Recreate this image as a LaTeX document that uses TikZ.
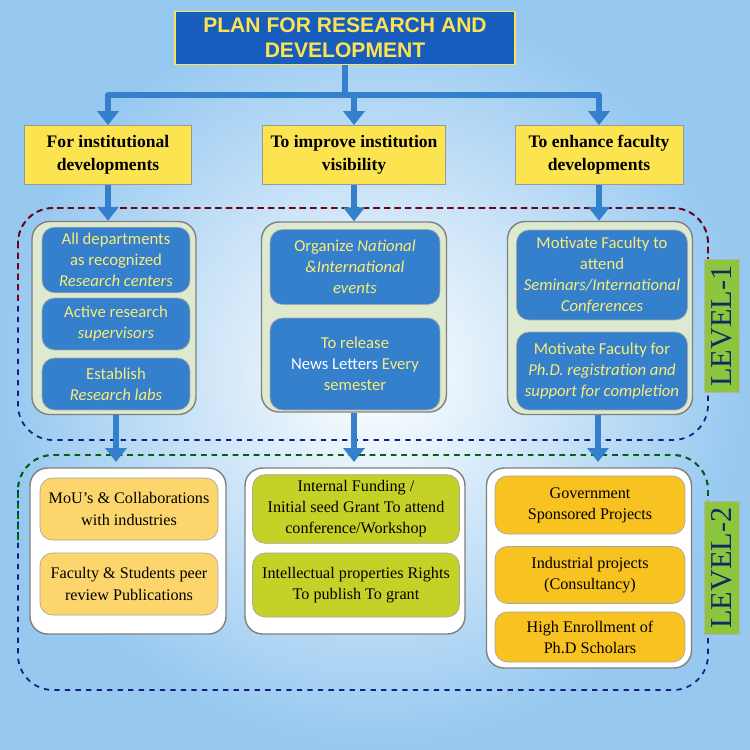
\documentclass[tikz,border=0pt]{standalone}
\usepackage{fontspec}
\setmainfont{Liberation Serif}
\newfontfamily\cfont{Carlito}
\newfontfamily\tfont{Liberation Sans}
\usetikzlibrary{arrows.meta}
\definecolor{skyb}{RGB}{150,200,240}
\definecolor{titleb}{RGB}{24,92,190}
\definecolor{headY}{RGB}{252,228,80}
\definecolor{boxB}{RGB}{52,128,205}
\definecolor{txtY}{RGB}{250,235,120}
\definecolor{panelG}{RGB}{222,234,208}
\definecolor{lightO}{RGB}{252,214,108}
\definecolor{limeG}{RGB}{196,210,40}
\definecolor{deepO}{RGB}{248,194,32}
\definecolor{tabG}{RGB}{140,198,63}
\definecolor{navyT}{RGB}{20,40,100}
\tikzset{
  titlebox/.style={draw=headY, line width=1pt, fill=titleb, text=headY, font=\tfont\bfseries\large, align=center, minimum width=6.8cm, minimum height=1.06cm},
  headbox/.style={draw=black!40, fill=headY, font=\bfseries\fontsize{10}{13}\selectfont, align=center, minimum height=1.18cm},
  panel/.style={draw=black!50, line width=0.8pt, rounded corners=0.35cm},
  bluebox/.style={draw=black!35, fill=boxB, text=txtY, rounded corners=0.25cm, font=\cfont\fontsize{9.5}{12}\selectfont, align=center, minimum width=#1},
  cbox/.style={draw=black!35, rounded corners=0.25cm, font=\fontsize{9.2}{12}\selectfont, align=center},
  tab/.style={draw=black!30, fill=tabG, text=navyT, rotate=90, font=\LARGE, minimum height=0.7cm},
  flow/.style={boxB, line width=0.12cm, -{Triangle[length=0.28cm, width=0.42cm]}},
  link/.style={boxB, line width=0.12cm},
}
\begin{document}
\begin{tikzpicture}[x=0.02cm, y=-0.02cm]
  \shade[inner color=white, outer color=skyb] (0,0) rectangle (750,750);
  % top
  \node[titlebox] (plan) at (345,38) {PLAN FOR RESEARCH AND\\DEVELOPMENT};
  \node[headbox, minimum width=3.34cm] (inst) at (108,155) {For institutional\\developments};
  \node[headbox, minimum width=3.66cm] (vis) at (354,155) {To improve institution\\visibility};
  \node[headbox, minimum width=3.36cm] (fac) at (599,155) {To enhance faculty\\developments};
  \coordinate (hub) at (345,95);
  \coordinate (hubL) at (108,95);
  \coordinate (hubR) at (599,95);
  \draw[link] (plan.south) -- (hub);
  \draw[link, line cap=round] (hubL) -- (hubR);
  \draw[flow] (hubL) -- (inst.north);
  \draw[flow] (hub -| vis.north) -- (vis.north);
  \draw[flow] (hubR) -- (fac.north);
  % level 1
  \draw[navyT!80!blue, dashed, line width=1pt, rounded corners=0.7cm] (18,208) rectangle (708,440);
  \draw[red!50!black, dashed, line width=1pt, rounded corners=0.7cm] (18,300) -- (18,208) -- (708,208) -- (708,300);
  \node[panel, fill=panelG, minimum width=3.28cm, minimum height=3.86cm] (p1) at (114,318) {};
  \node[panel, fill=panelG, minimum width=3.7cm, minimum height=3.8cm] (p2) at (354,317) {};
  \node[panel, fill=panelG, minimum width=3.7cm, minimum height=3.86cm] (p3) at (600,318) {};
  \node[bluebox=2.96cm, minimum height=1.2cm] (b1) at (116,260) {All departments\\as recognized\\\itshape Research centers};
  \node[bluebox=2.96cm, minimum height=1.04cm] (b2) at (116,324) {Active research\\\itshape supervisors};
  \node[bluebox=2.96cm, minimum height=1.04cm] (b3) at (116,384) {Establish\\\itshape Research labs};
  \node[bluebox=3.4cm, minimum height=1.5cm] (b4) at (355,267) {Organize \textit{National}\\\itshape \&International\\\itshape events};
  \node[bluebox=3.4cm, minimum height=1.84cm] (b5) at (355,364) {To release\\\textcolor{white}{News Letters} Every\\semester};
  \node[bluebox=3.42cm, minimum height=1.8cm] (b6) at (602,275) {Motivate Faculty to\\attend\\\itshape Seminars/International\\\itshape Conferences};
  \node[bluebox=3.42cm, minimum height=1.56cm] (b7) at (602,371) {Motivate Faculty for\\\itshape Ph.D. registration and\\\itshape support for completion};
  \node[tab, minimum width=1.94cm] (lv1) at (722,326) {LEVEL-1};
  \draw[flow] (inst.south) -- (p1.north -| inst.south);
  \draw[flow] (vis.south) -- (p2.north);
  \draw[flow] (fac.south) -- (p3.north -| fac.south);
  % level 2
  \draw[navyT!80!blue, dashed, line width=1pt, rounded corners=0.7cm] (18,455) rectangle (708,690);
  \draw[green!40!black, dashed, line width=1pt, rounded corners=0.7cm] (18,540) -- (18,455) -- (708,455) -- (708,540);
  \node[panel, fill=white, minimum width=3.92cm, minimum height=3.32cm] (q1) at (128,551) {};
  \node[panel, fill=white, minimum width=4.4cm, minimum height=3.32cm] (q2) at (355,551) {};
  \node[panel, fill=white, minimum width=4.1cm, minimum height=4.0cm] (q3) at (589,568) {};
  \node[cbox, fill=lightO, minimum width=3.56cm, minimum height=1.24cm] (c1) at (129,509) {MoU's \& Collaborations\\with industries};
  \node[cbox, fill=lightO, minimum width=3.56cm, minimum height=1.24cm] (c2) at (129,584) {Faculty \& Students peer\\review Publications};
  \node[cbox, fill=limeG, minimum width=4.14cm, minimum height=1.24cm] (c3) at (356,509) {Internal Funding /\\Initial seed Grant To attend\\conference/Workshop};
  \node[cbox, fill=limeG, minimum width=4.14cm, minimum height=1.28cm] (c4) at (356,585) {Intellectual properties Rights\\To publish To grant};
  \node[cbox, fill=deepO, minimum width=3.8cm, minimum height=1.16cm] (c5) at (590,505) {Government\\Sponsored Projects};
  \node[cbox, fill=deepO, minimum width=3.8cm, minimum height=1.14cm] (c6) at (590,575) {Industrial projects\\(Consultancy)};
  \node[cbox, fill=deepO, minimum width=3.8cm, minimum height=1.0cm] (c7) at (590,637) {High Enrollment of\\Ph.D Scholars};
  \node[tab, minimum width=2.26cm] (lv2) at (722,568) {LEVEL-2};
  \coordinate (e1) at (116,462);
  \coordinate (e2) at (354,462);
  \coordinate (e3) at (598,462);
  \draw[flow] (p1.south -| e1) -- (e1);
  \draw[flow] (p2.south) -- (e2);
  \draw[flow] (p3.south -| e3) -- (e3);
\end{tikzpicture}
\end{document}
